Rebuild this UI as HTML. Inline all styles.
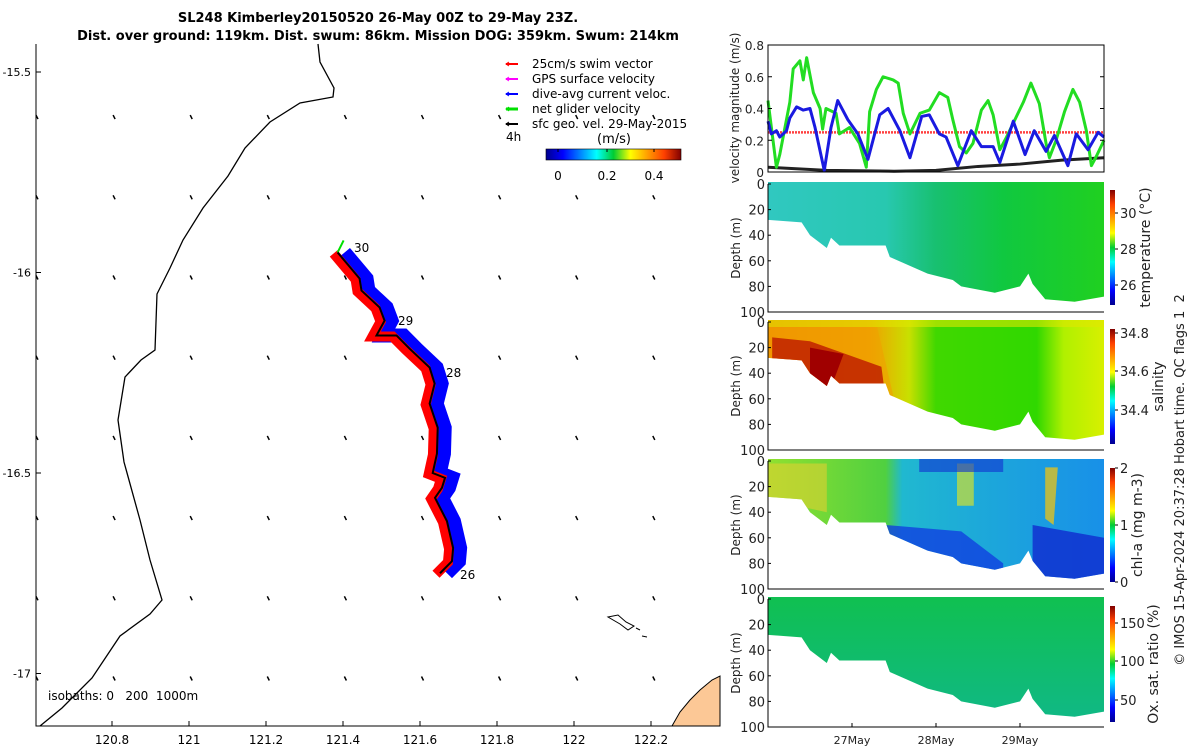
<!DOCTYPE html>
<html><head><meta charset="utf-8"><style>
body{margin:0;background:#fff}
svg{display:block;font-family:"DejaVu Sans","Liberation Sans",sans-serif}
text{white-space:pre}
</style></head><body>
<svg id="s" width="1200" height="750" viewBox="0 0 1200 750" xmlns="http://www.w3.org/2000/svg">
<defs>
<linearGradient id="jet" x1="0" x2="1" y1="0" y2="0">
<stop offset="0" stop-color="#00008f"/><stop offset="0.125" stop-color="#0000ff"/><stop offset="0.375" stop-color="#00ffff"/><stop offset="0.5" stop-color="#00cc33"/><stop offset="0.625" stop-color="#ffff00"/><stop offset="0.875" stop-color="#ff4000"/><stop offset="1" stop-color="#800000"/>
</linearGradient>
<linearGradient id="jetv" x1="0" x2="0" y1="1" y2="0">
<stop offset="0" stop-color="#00008f"/><stop offset="0.125" stop-color="#0000ff"/><stop offset="0.375" stop-color="#00ffff"/><stop offset="0.5" stop-color="#00cc33"/><stop offset="0.625" stop-color="#ffff00"/><stop offset="0.875" stop-color="#ff4000"/><stop offset="1" stop-color="#800000"/>
</linearGradient>
<linearGradient id="gT" x1="0" x2="1"><stop offset="0" stop-color="#30c8c0"/><stop offset="0.35" stop-color="#28c8b0"/><stop offset="0.5" stop-color="#18c070"/><stop offset="0.7" stop-color="#10c840"/><stop offset="1" stop-color="#20d020"/></linearGradient>
<linearGradient id="gS" x1="0" x2="1"><stop offset="0" stop-color="#f08a00"/><stop offset="0.3" stop-color="#f0a000"/><stop offset="0.42" stop-color="#c8e000"/><stop offset="0.5" stop-color="#40d800"/><stop offset="0.8" stop-color="#30d800"/><stop offset="0.88" stop-color="#b0f000"/><stop offset="1" stop-color="#d8f000"/></linearGradient>
<linearGradient id="gC" x1="0" x2="1"><stop offset="0" stop-color="#90e030"/><stop offset="0.35" stop-color="#50d040"/><stop offset="0.4" stop-color="#20b8d0"/><stop offset="1" stop-color="#1890e8"/></linearGradient>
<linearGradient id="gO" x1="0" x2="0" y1="0" y2="1"><stop offset="0" stop-color="#10c050"/><stop offset="1" stop-color="#10b888"/></linearGradient>
</defs>
<g id="map"></g>
<g id="right"></g>
</svg>
<script>
const NS='http://www.w3.org/2000/svg';
const svg=document.getElementById('s');
function mk(t,a,p,txt){const e=document.createElementNS(NS,t);for(const k in a)e.setAttribute(k,a[k]);if(txt!==undefined)e.textContent=txt;(p||svg).appendChild(e);return e;}

// ---------- DATA ----------
const lonTicks=[120.8,121,121.2,121.4,121.6,121.8,122,122.2];
const latTicks=[-15.5,-16,-16.5,-17];
const trackLon=[121.386,121.443,121.448,121.495,121.508,121.487,121.539,121.573,121.625,121.638,121.625,121.646,121.644,121.633,121.665,121.657,121.639,121.670,121.686,121.683,121.652];
const trackLat=[-15.95,-16.015,-16.045,-16.087,-16.12,-16.157,-16.157,-16.19,-16.237,-16.277,-16.327,-16.387,-16.452,-16.5,-16.512,-16.537,-16.562,-16.62,-16.687,-16.72,-16.75];
const greenT=[0,.10,.14,.26,.30,.38,.42,.46,.54,.62,.65,.69,.81,.85,.97,1.09,1.17,1.21,1.29,1.37,1.49,1.55,1.61,1.69,1.81,1.92,2.04,2.14,2.20,2.28,2.36,2.44,2.54,2.62,2.68,2.76,2.84,2.94,3.04,3.13,3.23,3.31,3.35,3.43,3.53,3.63,3.71,3.79,3.85,3.91,4.0];
const greenV=[.45,.03,.11,.44,.65,.70,.58,.72,.50,.40,.27,.40,.37,.24,.28,.18,.03,.38,.52,.60,.58,.56,.37,.24,.37,.39,.50,.47,.33,.16,.12,.18,.39,.45,.36,.14,.22,.33,.44,.56,.43,.18,.09,.20,.38,.52,.44,.26,.04,.10,.20];
const blueT=[0,.04,.10,.14,.22,.26,.34,.42,.50,.56,.67,.75,.83,.95,1.07,1.19,1.33,1.43,1.57,1.69,1.83,1.92,2.04,2.12,2.26,2.42,2.54,2.68,2.76,2.92,3.06,3.17,3.31,3.41,3.57,3.67,3.81,3.93,4.0];
const blueV=[.32,.24,.26,.22,.26,.34,.41,.39,.40,.28,.01,.28,.45,.33,.24,.08,.36,.40,.26,.09,.35,.36,.24,.22,.04,.26,.16,.16,.06,.32,.11,.26,.13,.23,.04,.24,.14,.25,.22];
const blackT=[0,.7,1.5,2,2.5,3,3.5,4];
const blackV=[.03,.01,.005,.01,.035,.05,.075,.09];
const swimV=[.25,.25];
const bottomT=[0,.4,.5,.7,.75,.85,1.4,1.45,1.9,2.2,2.3,2.7,3.0,3.1,3.15,3.3,3.65,4.0];
const bottomD=[28,30,40,50,42,48,48,57,70,75,80,85,80,70,78,90,92,88];
const dayTicks=['27May','28May','29May'];
const velTicks=[0,0.2,0.4,0.6,0.8];
const depthTicks=[0,20,40,60,80,100];

// ---------- MAP ----------
const M=document.getElementById('map');
const X=lon=>189+(lon-121)*385, Y=lat=>72+(-15.5-lat)*401;
mk('text',{x:378,y:22,'text-anchor':'middle','font-size':13,'font-weight':'bold'},M,'SL248 Kimberley20150520 26-May 00Z to 29-May 23Z.');
mk('text',{x:378,y:40,'text-anchor':'middle','font-size':13,'font-weight':'bold'},M,'Dist. over ground: 119km. Dist. swum: 86km. Mission DOG: 359km. Swum: 214km');
mk('path',{d:'M720,726 L672,726 L680,712 L690,700 L700,690 L712,680 L720,676 Z',fill:'#fcc896',stroke:'#000','stroke-width':1,},M);
mk('path',{d:'M608,617 L618,615 L626,622 L634,626 L628,630 L620,624 Z M636,628 l4,2 M642,636 l5,1',fill:'none',stroke:'#000','stroke-width':1,},M);
mk('path',{d:'M318,44 L320,62 L334,88 L333,97 L300,103 L270,122 L245,148 L228,176 L203,208 L183,240 L170,268 L157,294 L155,350 L141,360 L125,377 L118,420 L124,462 L140,520 L150,560 L162,600 L150,614 L120,636 L92,678 L62,708 L40,726',fill:'none',stroke:'#000','stroke-width':1.3,},M);
for(let i=0;i<9;i++)for(let j=0;j<8;j++){const x=36+i*77.1,y=Y(-15.6-j*0.2)+3;
 const e=mk('path',{d:`M${x},${y} l2,4`,stroke:'#000','stroke-width':1.5},M);
 
 }
const tp=trackLon.map((l,i)=>X(l)+','+Y(trackLat[i])).join(' ');
mk('polyline',{points:tp,fill:'none',stroke:'#0000ff','stroke-width':14,'stroke-linejoin':'miter',transform:'translate(7,0)',},M);
mk('polyline',{points:tp,fill:'none',stroke:'#ff0000','stroke-width':10,transform:'translate(-4,1)',},M);
mk('line',{x1:X(trackLon[0]),y1:Y(trackLat[0]),x2:X(trackLon[0])+6,y2:Y(trackLat[0])-12,stroke:'#00e000','stroke-width':2,},M);
mk('polyline',{points:tp,fill:'none',stroke:'#000','stroke-width':2,},M);
[['30',354,252],['29',398,325],['28',446,377],['26',460,579]].forEach(a=>{const e=mk('text',{x:a[1],y:a[2],'font-size':12},M,a[0]);});
mk('path',{d:'M36,44 V726 H720',fill:'none',stroke:'#000','stroke-width':1,},M);
lonTicks.forEach(l=>{const x=X(l);mk('line',{x1:x,y1:726,x2:x,y2:721,stroke:'#000'},M);
 const e=mk('text',{x:x,y:744,'text-anchor':'middle','font-size':12},M,String(l));});
latTicks.forEach(l=>{const y=Y(l);mk('line',{x1:36,y1:y,x2:41,y2:y,stroke:'#000'},M);
 const e=mk('text',{x:31,y:y+4,'text-anchor':'end','font-size':11},M,String(l));});
mk('text',{x:48,y:700,'font-size':12,},M,'isobaths: 0   200  1000m');
const leg=[['#ff0000','25cm/s swim vector'],['#ff00ff','GPS surface velocity'],['#0000ff','dive-avg current veloc.'],['#00e000','net glider velocity'],['#000','sfc geo. vel. 29-May-2015']];
leg.forEach((a,i)=>{const y=64+i*15;const g=mk('g',{},M);
 mk('line',{x1:506,y1:y,x2:518,y2:y,stroke:a[0],'stroke-width':i==3?3:2},g);mk('path',{d:`M509,${y-2} l-3,2 l3,2`,fill:'none',stroke:a[0]},g);
 mk('text',{x:532,y:y+4,'font-size':12},g,a[1]);});
mk('text',{x:506,y:141,'font-size':12,},M,'4h');
mk('text',{x:614,y:143,'text-anchor':'middle','font-size':13,},M,'(m/s)');
mk('rect',{x:546,y:149,width:135,height:11,fill:'url(#jet)',stroke:'#000','stroke-width':0.6,},M);
[[0,558],[0.2,607],[0.4,654]].forEach(a=>{mk('line',{x1:a[1],y1:149,x2:a[1],y2:152,stroke:'#000'},M);mk('text',{x:a[1],y:180,'text-anchor':'middle','font-size':12},M,String(a[0]));});

// ---------- RIGHT PANELS ----------
const R=document.getElementById('right');
const L=768,RR=1104, tx=d=>L+d*84;
const vy=v=>172-v*158.75;
function line(T,V,col,w,name,dash){const p=T.map((t,i)=>tx(t)+','+vy(V[i])).join(' ');const e=mk('polyline',{points:p,fill:'none',stroke:col,'stroke-width':w,'stroke-linejoin':'round'},R);if(dash)e.setAttribute('stroke-dasharray',dash);}
line([0,4],swimV,'#ff4040',2.5,'swim-speed-line','2,1');
line(blackT,blackV,'#222',3,'geostrophic-speed-line');
line(greenT,greenV,'#22dd22',3,'net-glider-speed-line');
line(blueT,blueV,'#1a1ae0',3,'dive-avg-current-line');
mk('rect',{x:L,y:45,width:RR-L,height:127,fill:'none',stroke:'#000',},R);
velTicks.forEach(v=>{const y=vy(v);mk('line',{x1:L,y1:y,x2:L+4,y2:y,stroke:'#000'},R);mk('line',{x1:RR,y1:y,x2:RR-4,y2:y,stroke:'#000'},R);
 const e=mk('text',{x:L-4,y:y+5,'text-anchor':'end','font-size':12,fill:'#222'},R,String(v));});
mk('text',{x:0,y:0,transform:'translate(739,108) rotate(-90)','text-anchor':'middle','font-size':12,fill:'#222',},R,'velocity magnitude (m/s)');

const panels=[
 {top:184,fill:'url(#gT)',name:'temperature',label:'temperature (°C)',lx:1150,cb:[190,305],ticks:[['30',213],['28',249],['26',285]]},
 {top:322,fill:'url(#gS)',name:'salinity',label:'salinity',lx:1163,cb:[329,444],ticks:[['34.8',333],['34.6',371],['34.4',410]]},
 {top:461,fill:'url(#gC)',name:'chlorophyll',label:'chl-a (mg m-3)',lx:1142,cb:[468,582],ticks:[['2',468],['1',525],['0',582]]},
 {top:599,fill:'url(#gO)',name:'oxygen',label:'Ox. sat. ratio (%)',lx:1158,cb:[606,722],ticks:[['150',623],['100',661],['50',700]]}];
panels.forEach((P,k)=>{
 const g=mk('g',{},R);
 const dy=d=>P.top+d*1.28;
 const shape='M'+tx(0)+','+(P.top-2)+' L'+tx(4)+','+(P.top-2)+' '+bottomT.slice().reverse().map((t,i)=>'L'+tx(t)+','+dy(bottomD[bottomD.length-1-i])).join(' ')+' Z';
 const cid='clip'+k;const cp=mk('clipPath',{id:cid},g);mk('path',{d:shape},cp);
 const cg=mk('g',{'clip-path':`url(#${cid})`},g);
 mk('rect',{x:L,y:P.top-3,width:RR-L,height:130,fill:P.fill},cg);
 if(k==1){mk('path',{d:`M${tx(0)},${dy(4)} L${tx(1.3)},${dy(4)} L${tx(1.5)},${dy(60)} L${tx(2.1)},${dy(100)} L${tx(0)},${dy(100)}Z`,fill:'#f0a000',opacity:0.6},cg);
  mk('path',{d:`M${tx(0.05)},${dy(12)} L${tx(0.5)},${dy(15)} L${tx(1.35)},${dy(35)} L${tx(1.4)},${dy(60)} L${tx(0.05)},${dy(60)}Z`,fill:'#c02000',opacity:0.85},cg);
  mk('path',{d:`M${tx(0.5)},${dy(20)} L${tx(0.9)},${dy(25)} L${tx(0.7)},${dy(60)} L${tx(0.5)},${dy(60)}Z`,fill:'#a00000'},cg);
  mk('rect',{x:L,y:P.top-3,width:RR-L,height:8,fill:'#e0e800',opacity:0.6},cg);}
 if(k==2){mk('path',{d:`M${tx(1.4)},${dy(50)} L${tx(2.3)},${dy(55)} L${tx(2.8)},${dy(80)} L${tx(2.8)},${dy(100)} L${tx(1.4)},${dy(100)}Z`,fill:'#1040e0',opacity:0.8},cg);
  mk('path',{d:`M${tx(3.15)},${dy(50)} L${tx(4)},${dy(60)} L${tx(4)},${dy(100)} L${tx(3.15)},${dy(100)}Z`,fill:'#1030d0',opacity:0.85},cg);
  mk('path',{d:`M${tx(0)},${dy(2)} L${tx(0.7)},${dy(2)} L${tx(0.7)},${dy(40)} L${tx(0)},${dy(30)}Z`,fill:'#e0d030',opacity:0.6},cg);
  mk('path',{d:`M${tx(2.25)},${dy(2)} L${tx(2.45)},${dy(2)} L${tx(2.45)},${dy(35)} L${tx(2.25)},${dy(35)}Z`,fill:'#d0e030',opacity:0.7},cg);
  mk('path',{d:`M${tx(3.3)},${dy(5)} L${tx(3.45)},${dy(5)} L${tx(3.4)},${dy(50)} L${tx(3.3)},${dy(45)}Z`,fill:'#e0c020',opacity:0.8},cg);
  mk('rect',{x:tx(1.8),y:P.top-3,width:84,height:14,fill:'#1030d0',opacity:0.6},cg);}
 mk('path',{d:`M${L},${P.top} V${P.top+128} H${RR}`,fill:'none',stroke:'#000'},g);
 depthTicks.forEach(d=>{const y=dy(d);mk('line',{x1:L,y1:y,x2:L+3,y2:y,stroke:'#000'},g);
  const e=mk('text',{x:L-3,y:y+5,'text-anchor':'end','font-size':13,fill:'#222'},g,String(d));});
 mk('text',{x:0,y:0,transform:`translate(740,${P.top+64}) rotate(-90)`,'text-anchor':'middle','font-size':12,fill:'#222'},g,'Depth (m)');
 mk('rect',{x:1110,y:P.cb[0],width:5,height:P.cb[1]-P.cb[0],fill:'url(#jetv)',},g);
 P.ticks.forEach(t=>{mk('line',{x1:1115,y1:t[1],x2:1118,y2:t[1],stroke:'#000'},g);mk('text',{x:1120,y:t[1]+5,'font-size':13,fill:'#222'},g,t[0]);});
 mk('text',{x:0,y:0,transform:`translate(${P.lx},${(P.cb[0]+P.cb[1])/2}) rotate(-90)`,'text-anchor':'middle','font-size':14,fill:'#222'},g,P.label);
});
dayTicks.forEach((d,i)=>{const x=tx(i+1);mk('line',{x1:x,y1:727,x2:x,y2:723,stroke:'#000'},R);
 const e=mk('text',{x:x,y:744,'text-anchor':'middle','font-size':11,fill:'#222'},R,d);});
mk('text',{x:0,y:0,transform:'translate(1184,480) rotate(-90)','text-anchor':'middle','font-size':13,fill:'#222',},R,'© IMOS 15-Apr-2024 20:37:28 Hobart time. QC flags 1  2');
</script>
</body></html>
